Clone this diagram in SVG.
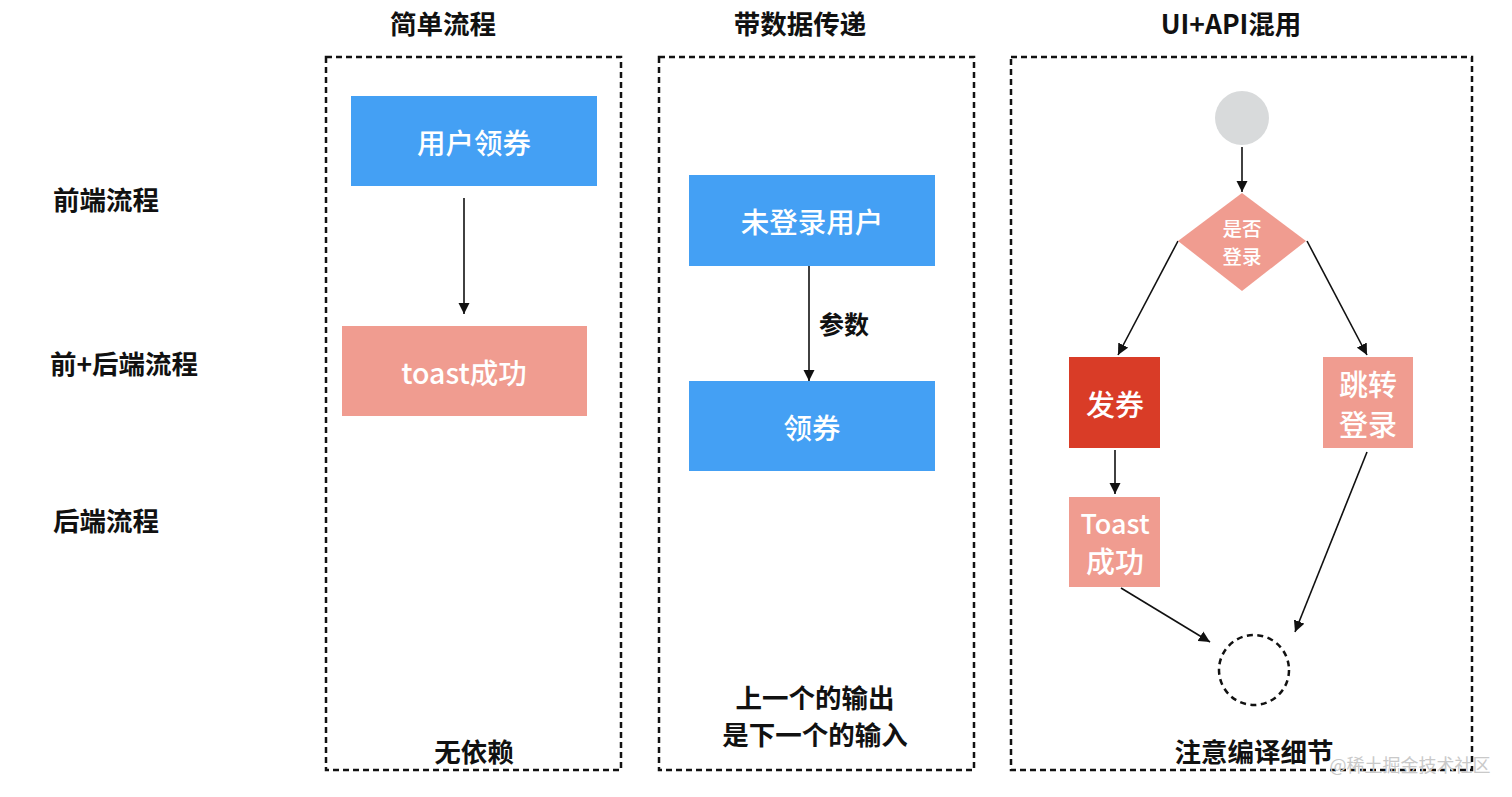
<svg xmlns="http://www.w3.org/2000/svg" width="1512" height="797" viewBox="0 0 1512 797">
<style>
.lbl{font-family:"Noto Sans CJK SC","Liberation Sans",sans-serif;font-weight:bold;font-size:26.5px;fill:#111;text-anchor:middle;dominant-baseline:central}
.frame{fill:none;stroke:#111;stroke-width:2.5;stroke-dasharray:6 4}
.blue{fill:#44A0F4}
.pink{fill:#F09C90}
.red{fill:#D93C27}
.nt{font-family:"Noto Sans CJK SC","Liberation Sans",sans-serif;font-weight:500;font-size:28.5px;fill:#fff;text-anchor:middle;dominant-baseline:central}
.conn{stroke:#111;stroke-width:1.6;fill:none;marker-end:url(#ah)}
</style>
<defs>
<marker id="ah" viewBox="0 0 10 10" refX="10" refY="5" markerWidth="7" markerHeight="7" markerUnits="strokeWidth" orient="auto">
<path d="M0,0 L10,5 L0,10 z" fill="#111"/>
</marker>
</defs>
<rect width="1512" height="797" fill="#fff"/>

<g id="titles">
<text class="lbl" x="443" y="22">简单流程</text>
<text class="lbl" x="800" y="22">带数据传递</text>
<text class="lbl" x="1231" y="22">UI+API混用</text>
</g>
<g id="row-labels">
<text class="lbl" x="106" y="198">前端流程</text>
<text class="lbl" x="124" y="362">前+后端流程</text>
<text class="lbl" x="106" y="519">后端流程</text>
</g>

<g id="frame-simple"><rect class="frame" x="326" y="57" width="295" height="713"/></g>
<g id="frame-data"><rect class="frame" x="659" y="57" width="315" height="713"/></g>
<g id="frame-mixed"><rect class="frame" x="1011" y="57" width="461" height="713"/></g>

<g id="connectors">
<line class="conn" x1="464" y1="198" x2="464" y2="314"/>
<line class="conn" x1="809" y1="266" x2="809" y2="381"/>
<line class="conn" x1="1242" y1="147" x2="1242" y2="192"/>
<line class="conn" x1="1178" y1="241" x2="1118" y2="355"/>
<line class="conn" x1="1307" y1="241" x2="1367" y2="355"/>
<line class="conn" x1="1115" y1="450" x2="1115" y2="494"/>
<line class="conn" x1="1121" y1="588" x2="1210" y2="642"/>
<line class="conn" x1="1367" y1="452" x2="1295" y2="632"/>
<text class="lbl" x="844" y="323" style="font-size:25px">参数</text>
</g>

<g id="n-user-coupon"><rect class="blue" x="351" y="96" width="246" height="90"/><text class="nt" x="474" y="141">用户领券</text></g>
<g id="n-toast1"><rect class="pink" x="342" y="326" width="245" height="90"/><text class="nt" x="464" y="371">toast成功</text></g>

<g id="n-unlogged"><rect class="blue" x="689" y="175" width="246" height="91"/><text class="nt" x="812" y="220">未登录用户</text></g>
<g id="n-coupon"><rect class="blue" x="689" y="381" width="246" height="90"/><text class="nt" x="812" y="426">领券</text></g>

<g id="n-start"><circle cx="1242" cy="118" r="27" fill="#D8DADB"/></g>
<g id="n-decision"><polygon class="pink" points="1242,193 1306,241 1242,291 1178,241"/>
<text class="nt" x="1242" y="227" style="font-size:19.5px">是否</text>
<text class="nt" x="1242" y="255" style="font-size:19.5px">登录</text></g>
<g id="n-issue"><rect class="red" x="1069" y="357" width="91" height="91"/><text class="nt" x="1115" y="403" style="font-size:29px">发券</text></g>
<g id="n-jump"><rect class="pink" x="1323" y="357" width="90" height="91"/>
<text class="nt" x="1368" y="383" style="font-size:29px">跳转</text>
<text class="nt" x="1368" y="423" style="font-size:29px">登录</text></g>
<g id="n-toast2"><rect class="pink" x="1069" y="497" width="91" height="90"/>
<text class="nt" x="1115" y="522" style="font-size:27px">Toast</text>
<text class="nt" x="1115" y="560" style="font-size:29px">成功</text></g>
<g id="n-end"><circle cx="1254" cy="670" r="35" fill="none" stroke="#111" stroke-width="2.5" stroke-dasharray="6 4.5"/></g>

<g id="notes">
<text class="lbl" x="474" y="750">无依赖</text>
<text class="lbl" x="815" y="696">上一个的输出</text>
<text class="lbl" x="815" y="733">是下一个的输入</text>
<text class="lbl" x="1254" y="750">注意编译细节</text>
<text x="1410" y="764" style="font-family:'Noto Sans CJK SC','Liberation Sans',sans-serif;font-size:18px;fill:#c9c9c9;text-anchor:middle;dominant-baseline:central">@稀土掘金技术社区</text>
</g>
</svg>
